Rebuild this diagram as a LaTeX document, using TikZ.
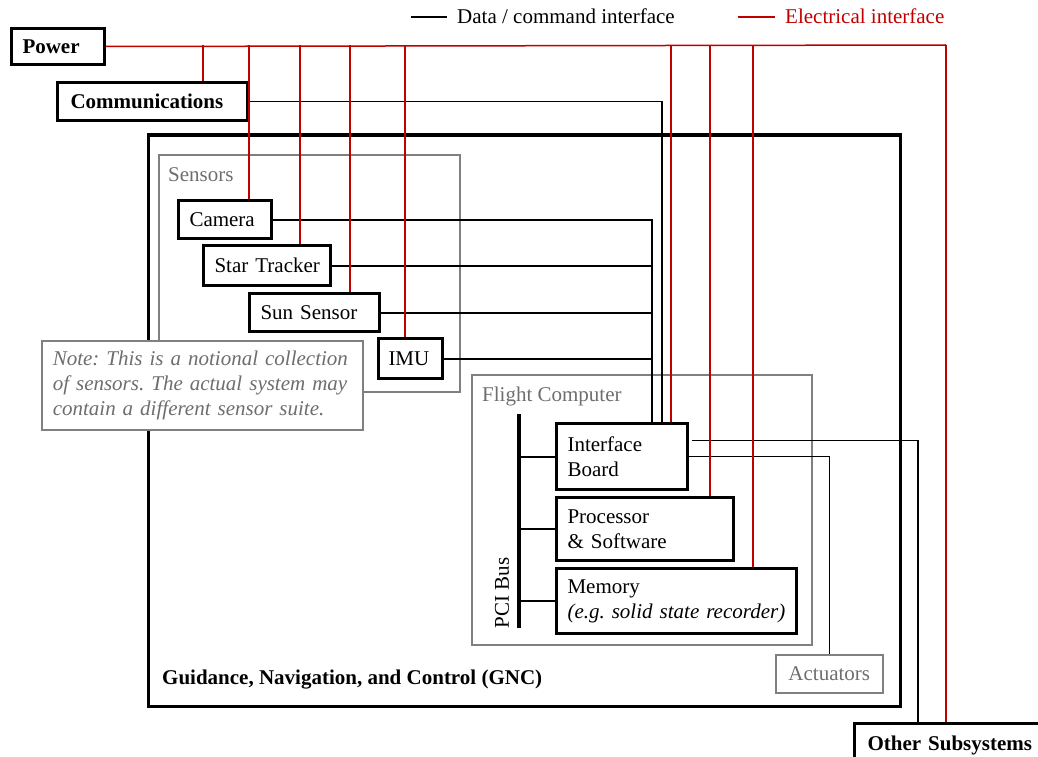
\documentclass[tikz,border=0pt]{standalone}
\usepackage{fontspec}
\setmainfont{Liberation Serif}
\usetikzlibrary{calc}
\definecolor{elec}{HTML}{C00000}
\definecolor{framegray}{HTML}{808080}
\definecolor{labelgray}{HTML}{6E6E6E}
\frenchspacing

\begin{document}
\begin{tikzpicture}[x=1pt,y=-1pt,
  every node/.style={font=\fontsize{21}{25}\selectfont},
  unitbox/.style={draw, line width=3pt, anchor=north west, inner xsep=11pt, inner ysep=0pt, align=left},
  groupframe/.style={draw=framegray, line width=1.5pt},
  grouplabel/.style={text=labelgray, anchor=base west, inner sep=0pt},
  dataline/.style={draw=black, line width=2pt},
  datathin/.style={draw=black, line width=1.3pt},
  elecline/.style={draw=elec, line width=1.9pt},
]
\useasboundingbox (0,0) rectangle (1038,757);
\clip (0,0) rectangle (1038,757);

% legend
\coordinate (legd1) at (411,17);
\coordinate (legd2) at (447,17);
\coordinate (lege1) at (738,17);
\coordinate (lege2) at (775,17);
\draw[datathin] (legd1) -- (legd2);
\node[anchor=base west, inner sep=0pt] (legdata) at (457,24) {Data / command interface};
\draw[elecline, line width=1.4pt] (lege1) -- (lege2);
\node[anchor=base west, inner sep=0pt, text=elec] (legelec) at (785,24) {Electrical interface};

% GNC enclosure and groups
\draw[line width=3pt] (148,135) rectangle (900,706);
\node[anchor=base west, inner sep=0pt, font=\fontsize{21}{25}\selectfont\bfseries] (gnclabel) at (162,684) {Guidance, Navigation, and Control (GNC)};
\draw[groupframe] (159,155) rectangle (460,392);
\node[grouplabel] (sensorslabel) at (168,181) {Sensors};
\draw[groupframe] (472,375) rectangle (812,645);
\node[grouplabel] (fclabel) at (482,401) {Flight Computer};

% external units
\node[unitbox, text width=71pt, minimum height=36pt, font=\fontsize{21}{25}\selectfont\bfseries] (power) at (10,27) {Power};
\node[unitbox, inner xsep=13pt, text width=164pt, minimum height=38pt, font=\fontsize{21}{25}\selectfont\bfseries] (comm) at (56,81) {Communications};
\node[unitbox, inner xsep=13pt, text width=175pt, minimum height=43pt, font=\fontsize{21}{25}\selectfont\bfseries] (other) at (853,722) {\mbox{Other Subsystems}};

% sensors
\node[unitbox, text width=71pt, minimum height=38pt] (camera) at (177,199) {Camera};
\node[unitbox, text width=105pt, minimum height=40pt] (star) at (202,244) {\mbox{Star Tracker}};
\node[unitbox, text width=108pt, minimum height=38pt] (sun) at (248,292) {\mbox{Sun Sensor}};
\node[unitbox, inner xsep=10pt, text width=44pt, minimum height=40pt] (imu) at (377,337) {IMU};

% note
\node[draw=framegray, line width=1.5pt, fill=white, anchor=north west, inner xsep=11pt, inner ysep=0pt,
      text width=299pt, minimum height=89pt, align=left, text=labelgray,
      font=\fontsize{21}{25}\selectfont\itshape] (note) at (41,340)
  {\mbox{Note: This is a notional collection}\\\mbox{of sensors. The actual system may}\\\mbox{contain a different sensor suite.}};

% flight computer
\node[unitbox, text width=109pt, minimum height=66pt] (ib) at (555,422) {Interface\\Board};
\node[unitbox, text width=155pt, minimum height=63pt] (proc) at (555,496) {Processor\\\mbox{\& Software}};
\node[unitbox, text width=218pt, minimum height=65pt] (mem) at (555,567) {Memory\\\mbox{\textit{(e.g. solid state recorder)}}};
\node[draw=framegray, line width=1.5pt, anchor=north west, minimum width=107pt, minimum height=38pt,
      inner sep=0pt, text=labelgray] (act) at (775,654) {Actuators};

% PCI bus
\coordinate (bustop) at (519,414);
\coordinate (busbot) at (519,628);
\draw[line width=4.5pt] (bustop) -- (busbot);
\node[rotate=90, inner sep=0pt] (buslabel) at (502,593) {PCI Bus};
\foreach \u in {ib,proc,mem}
  \draw[dataline] (\u.west) -- (\u.west -| bustop);

% data / command lines
\coordinate (sbus) at (652,0);
\coordinate (cbus) at (662,0);
\draw[dataline] (camera.east) -| (sbus |- ib.north);
\foreach \u in {star,sun,imu}
  \draw[dataline] (\u.east) -- (\u.east -| sbus);
\draw[datathin] (comm.east) -| (cbus |- ib.north);
\coordinate (ibout) at ($(ib.east)+(3,-16)$);
\coordinate (obus) at (918,0);
\draw[datathin] (ibout) -| (obus |- other.north);
\draw[datathin] (ib.east) -| (act.north);

% electrical lines
\coordinate (pcorner) at (946,45);
\draw[elecline, line width=1.5pt] (power.east) -- (pcorner);
\draw[elecline, line width=2.6pt] (pcorner) -- (pcorner |- other.north);
\foreach \x/\u/\w in {203/comm/1.5, 249/camera/1.6, 300/star/2.2, 350/sun/1.9, 405/imu/2.2, 671/ib/2.2, 710/proc/2.0, 753/mem/1.6}
  \draw[elecline, line width=\w pt] (\x,45) -- (\x,45 |- \u.north);

\end{tikzpicture}
\end{document}
